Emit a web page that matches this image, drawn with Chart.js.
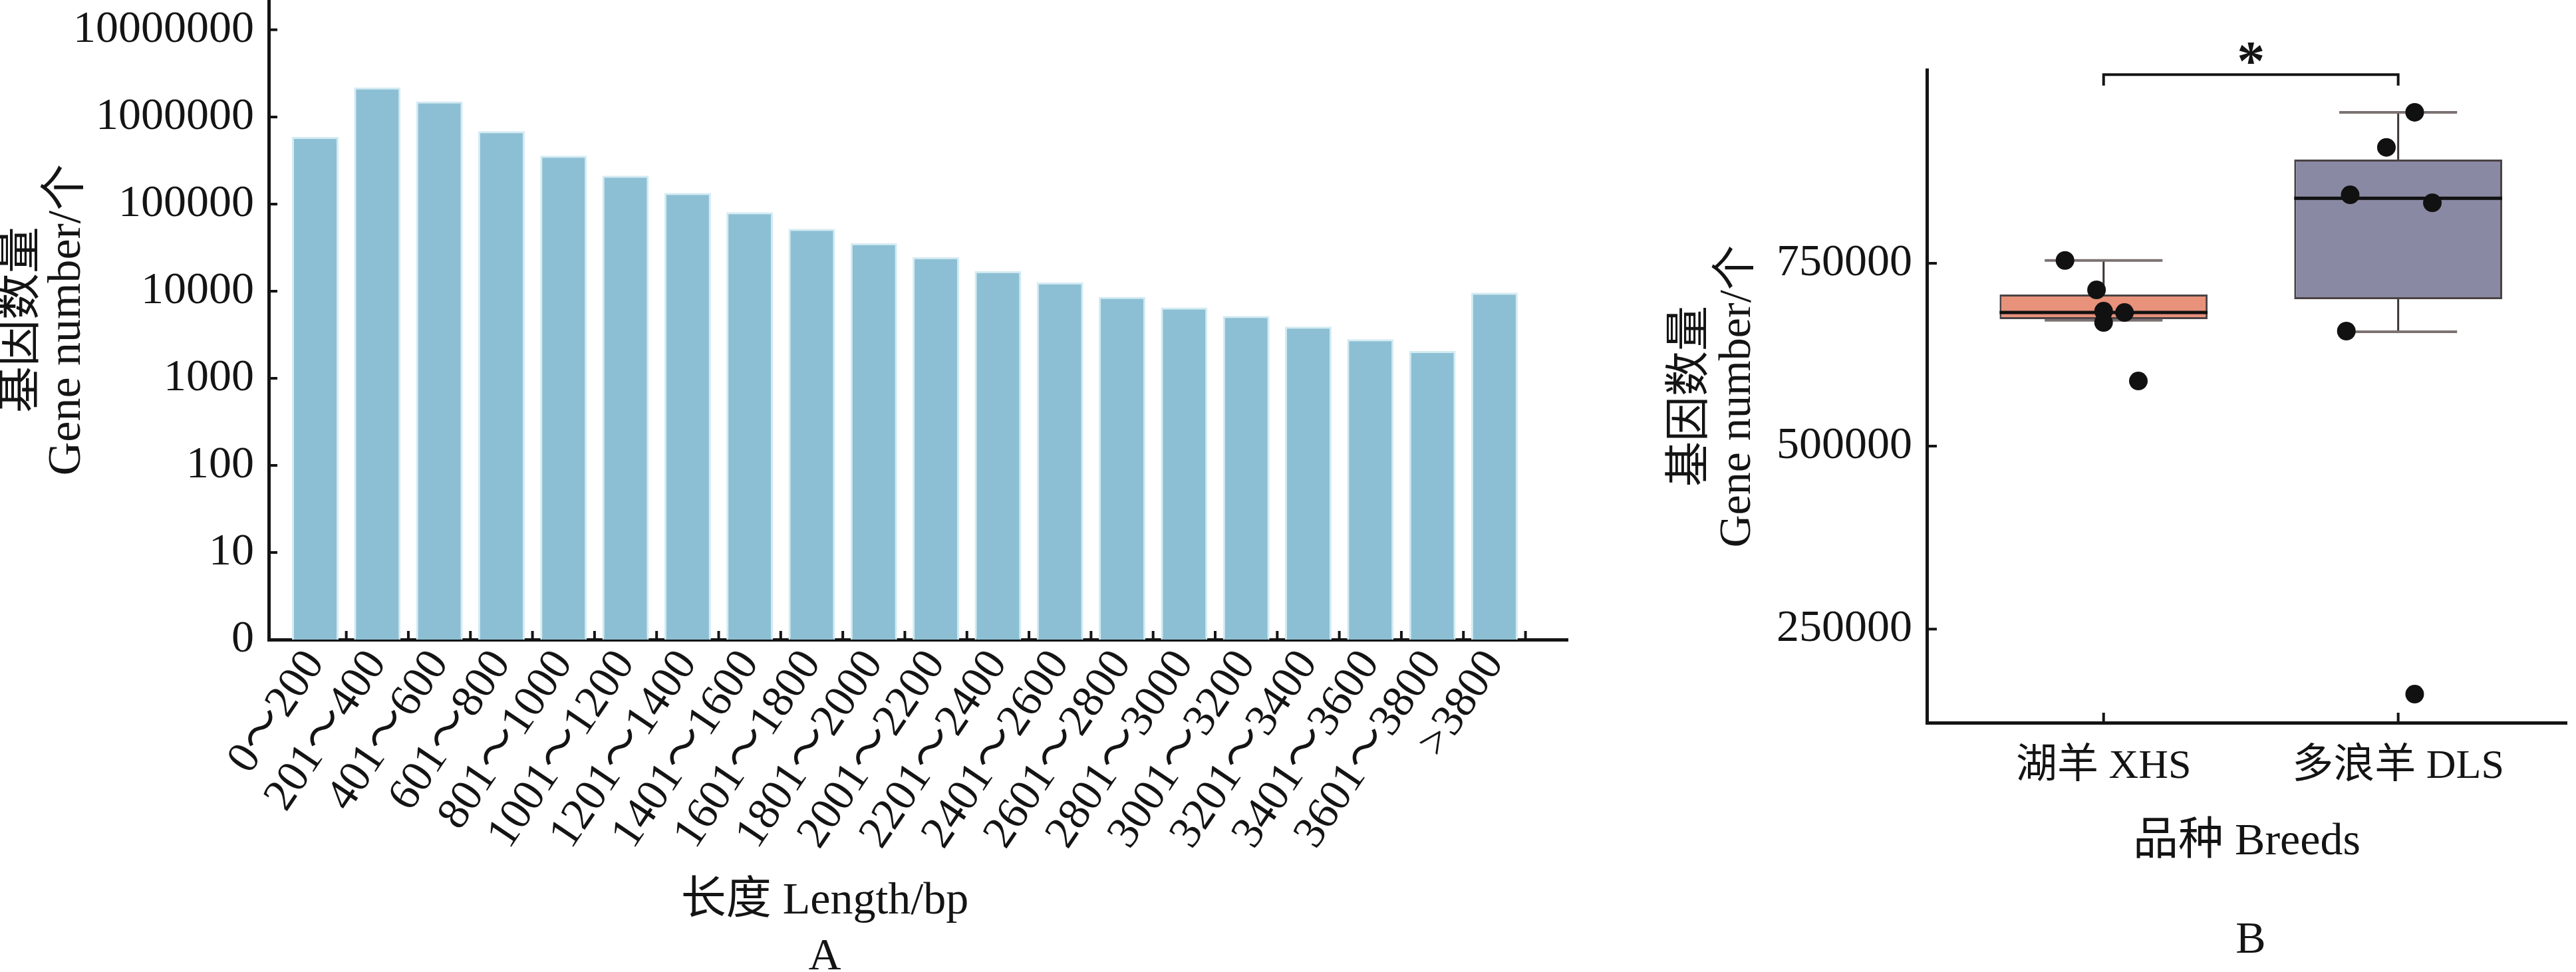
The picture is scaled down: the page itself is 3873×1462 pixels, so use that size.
<!DOCTYPE html>
<html>
<head>
<meta charset="utf-8">
<script src="https://cdn.jsdelivr.net/npm/chart.js@4.4.1/dist/chart.umd.min.js"></script>
<style>
  html, body { margin: 0; padding: 0; background: #fff; }
  body { width: 3873px; height: 1462px; position: relative; overflow: hidden; }
  canvas { position: absolute; top: 0; }
  #chartA { left: 0; }
  #chartB { left: 2450px; }
</style>
</head>
<body>
<canvas id="chartA" width="2400" height="1462"></canvas>
<canvas id="chartB" width="1423" height="1462"></canvas>
<script>
const SERIF = "'Liberation Serif', 'Noto Sans CJK SC', serif";
const INK = '#141414';

// Panel A: gene counts per length bin (log axis)
const lengthBins = ['0～200', '201～400', '401～600', '601～800', '801～1000', '1001～1200',
    '1201～1400', '1401～1600', '1601～1800', '1801～2000', '2001～2200', '2201～2400',
    '2401～2600', '2601～2800', '2801～3000', '3001～3200', '3201～3400', '3401～3600',
    '3601～3800', '>3800'];
const geneCounts = [590000, 2180000, 1507000, 688000, 359000, 212000, 134000, 80500, 51900, 35600,
    24600, 17000, 12600, 8600, 6480, 5190, 3920, 2800, 2050, 9600];
const yTickValuesA = [1, 10, 100, 1000, 10000, 100000, 1000000, 10000000];
const yTickLabelsA = ['0', '10', '100', '1000', '10000', '100000', '1000000', '10000000'];

// Panel B: gene number per breed (box plot + samples)
const breeds = ['湖羊 XHS', '多浪羊 DLS'];
const boxLow = [673600, 700900];
const boxHigh = [707300, 891800];
const medians = [682700, 838800];
const whiskerLow = [672100, 656400];
const whiskerHigh = [753900, 956400];
const samplesXHS = [753900, 713600, 684500, 669100, 682700, 589100];
const jitterXHS = [-0.131, -0.024, 0.0, 0.0, 0.071, 0.118];
const samplesDLS = [956400, 908500, 843600, 832700, 657300, 161000];
const jitterDLS = [0.056, -0.040, -0.163, 0.116, -0.176, 0.056];
const yTickValuesB = [250000, 500000, 750000];
const yTickLabelsB = ['250000', '500000', '750000'];
const sigBracket = { from: 0, to: 1, y: 1008000, drop: 993000, label: '*' };

function inwardTicks(xVals, yVals, len) {
    return {
        id: 'inwardTicks',
        afterDraw(chart) {
            const { ctx, chartArea: a, scales: { x, y } } = chart;
            ctx.save();
            ctx.strokeStyle = INK;
            ctx.lineWidth = 4;
            ctx.beginPath();
            xVals.forEach(v => {
                const px = x.getPixelForValue(v);
                ctx.moveTo(px, a.bottom);
                ctx.lineTo(px, a.bottom - len);
            });
            yVals.forEach(v => {
                const py = y.getPixelForValue(v);
                ctx.moveTo(a.left, py);
                ctx.lineTo(a.left + len, py);
            });
            ctx.stroke();
            ctx.restore();
        }
    };
}

function panelText(items) {
    return {
        id: 'panelText',
        afterDraw(chart) {
            const ctx = chart.ctx;
            ctx.save();
            ctx.fillStyle = INK;
            ctx.textAlign = 'center';
            ctx.textBaseline = 'middle';
            items.forEach(t => {
                ctx.font = t.size + 'px ' + SERIF;
                ctx.fillText(t.text, t.x, t.y);
            });
            ctx.restore();
        }
    };
}

const boxWhiskers = {
    id: 'boxWhiskers',
    afterDatasetDraw(chart, args) {
        if (args.index !== 1) return;
        const { ctx, scales: { x, y } } = chart;
        const bars = args.meta.data;
        const seg = (x1, y1, x2, y2) => { ctx.beginPath(); ctx.moveTo(x1, y1); ctx.lineTo(x2, y2); ctx.stroke(); };
        ctx.save();
        breeds.forEach((_, i) => {
            const cx = x.getPixelForValue(i);
            const half = bars[i].width / 2;
            const cap = x.getPixelForValue(i + 0.2) - cx;
            const yHi = y.getPixelForValue(whiskerHigh[i]);
            const yLo = y.getPixelForValue(whiskerLow[i]);
            ctx.strokeStyle = '#3b3434';
            ctx.lineWidth = 3;
            seg(cx, y.getPixelForValue(boxHigh[i]), cx, yHi);
            seg(cx, y.getPixelForValue(boxLow[i]), cx, yLo);
            ctx.strokeStyle = '#7c7272';
            ctx.lineWidth = 4;
            seg(cx - cap, yHi, cx + cap, yHi);
            seg(cx - cap, yLo, cx + cap, yLo);
            ctx.strokeStyle = '#111';
            ctx.lineWidth = 5;
            const ym = y.getPixelForValue(medians[i]);
            seg(cx - half, ym, cx + half, ym);
        });
        ctx.restore();
    }
};

const significance = {
    id: 'significance',
    afterDraw(chart) {
        const { ctx, scales: { x, y } } = chart;
        const x0 = x.getPixelForValue(sigBracket.from);
        const x1 = x.getPixelForValue(sigBracket.to);
        const yb = y.getPixelForValue(sigBracket.y);
        const yd = y.getPixelForValue(sigBracket.drop);
        ctx.save();
        ctx.strokeStyle = INK;
        ctx.lineWidth = 4;
        ctx.beginPath();
        ctx.moveTo(x0, yd);
        ctx.lineTo(x0, yb);
        ctx.lineTo(x1, yb);
        ctx.lineTo(x1, yd);
        ctx.stroke();
        ctx.fillStyle = INK;
        ctx.font = 'bold 84px ' + SERIF;
        ctx.textAlign = 'center';
        ctx.textBaseline = 'alphabetic';
        const m = ctx.measureText(sigBracket.label);
        const cy = yb - 32;
        ctx.fillText(sigBracket.label, (x0 + x1) / 2, cy + (m.actualBoundingBoxAscent - m.actualBoundingBoxDescent) / 2);
        ctx.restore();
    }
};

const axisBorder = { display: true, color: INK, width: 5 };

new Chart(document.getElementById('chartA'), {
    type: 'bar',
    data: {
        datasets: [{
            data: geneCounts.map((v, i) => ({ x: i, y: v })),
            backgroundColor: '#8CBFD3',
            borderColor: '#D3EBF3',
            borderWidth: 3,
            barPercentage: 0.75,
            categoryPercentage: 1
        }]
    },
    options: {
        responsive: false,
        animation: false,
        layout: { padding: { left: 0, top: 0, right: 43, bottom: 0 } },
        plugins: { legend: { display: false }, tooltip: { enabled: false } },
        scales: {
            x: {
                type: 'linear',
                offset: false,
                min: -0.75,
                max: 20.18,
                afterBuildTicks: s => { s.ticks = lengthBins.map((_, i) => ({ value: i })); },
                afterFit: s => { s.height = 500; s.paddingLeft = 0; s.paddingRight = 0; },
                grid: { display: false, drawTicks: false, offset: false },
                border: axisBorder,
                ticks: {
                    autoSkip: false, minRotation: 56, maxRotation: 56, padding: 4, color: INK,
                    font: { family: SERIF, size: 68, lineHeight: 1.1 },
                    callback: (v, i) => lengthBins[i]
                }
            },
            y: {
                type: 'logarithmic',
                min: 1,
                max: 2.2e7,
                afterBuildTicks: s => { s.ticks = yTickValuesA.map(v => ({ value: v })); },
                afterFit: s => { s.width = 404; s.paddingTop = 0; s.paddingBottom = 0; },
                grid: { display: false, drawTicks: false },
                border: axisBorder,
                ticks: {
                    padding: 22, color: INK,
                    font: { family: SERIF, size: 68 },
                    callback: (v, i) => yTickLabelsA[i]
                },
                title: {
                    display: true,
                    text: ['基因数量', 'Gene number/个'],
                    color: INK,
                    font: { family: SERIF, size: 70, lineHeight: '68px' },
                    padding: { top: 0, bottom: 0 }
                }
            }
        }
    },
    plugins: [
        inwardTicks(lengthBins.map((_, i) => i + 0.5), yTickValuesA, 13),
        panelText([
            { text: '长度 Length/bp', x: 1240, y: 1356, size: 68 },
            { text: 'A', x: 1240, y: 1440, size: 68 }
        ])
    ]
});

new Chart(document.getElementById('chartB'), {
    type: 'bar',
    data: {
        datasets: [
            {
                type: 'scatter',
                data: samplesXHS.map((v, k) => ({ x: jitterXHS[k], y: v }))
                    .concat(samplesDLS.map((v, k) => ({ x: 1 + jitterDLS[k], y: v }))),
                pointRadius: 14,
                pointBackgroundColor: '#111',
                pointBorderWidth: 0
            },
            {
                data: breeds.map((_, i) => ({ x: i, y: [boxLow[i], boxHigh[i]] })),
                backgroundColor: ['#E8917B', '#8A89A3'],
                borderColor: '#4a4244',
                borderWidth: 3,
                borderSkipped: false,
                barPercentage: 0.706,
                categoryPercentage: 1
            }
        ]
    },
    options: {
        responsive: false,
        animation: false,
        layout: { padding: { left: 0, top: 105, right: 0, bottom: 0 } },
        plugins: { legend: { display: false }, tooltip: { enabled: false } },
        scales: {
            x: {
                type: 'linear',
                offset: false,
                min: -0.6,
                max: 1.572,
                afterBuildTicks: s => { s.ticks = breeds.map((_, i) => ({ value: i })); },
                afterFit: s => { s.height = 375; s.paddingLeft = 0; s.paddingRight = 0; },
                grid: { display: false, drawTicks: false, offset: false },
                border: axisBorder,
                ticks: {
                    autoSkip: false, maxRotation: 0, padding: 30, color: INK,
                    font: { family: SERIF, size: 62 },
                    callback: (v, i) => breeds[i]
                },
                title: {
                    display: true,
                    text: '品种 Breeds',
                    color: INK,
                    font: { family: SERIF, size: 68, lineHeight: 1.2 },
                    padding: { top: 0, bottom: 154 }
                }
            },
            y: {
                type: 'linear',
                min: 122000,
                max: 1014500,
                afterBuildTicks: s => { s.ticks = yTickValuesB.map(v => ({ value: v })); },
                afterFit: s => { s.width = 447; s.paddingTop = 0; s.paddingBottom = 0; },
                grid: { display: false, drawTicks: false },
                border: axisBorder,
                ticks: {
                    padding: 22, color: INK,
                    font: { family: SERIF, size: 68 },
                    callback: (v, i) => yTickLabelsB[i]
                },
                title: {
                    display: true,
                    text: ['基因数量', 'Gene number/个'],
                    color: INK,
                    font: { family: SERIF, size: 68, lineHeight: '70px' },
                    padding: { top: 58, bottom: 0 }
                }
            }
        }
    },
    plugins: [
        boxWhiskers,
        significance,
        inwardTicks([0, 1], yTickValuesB, 15),
        panelText([{ text: 'B', x: 934, y: 1415, size: 68 }])
    ]
});
</script>
</body>
</html>
